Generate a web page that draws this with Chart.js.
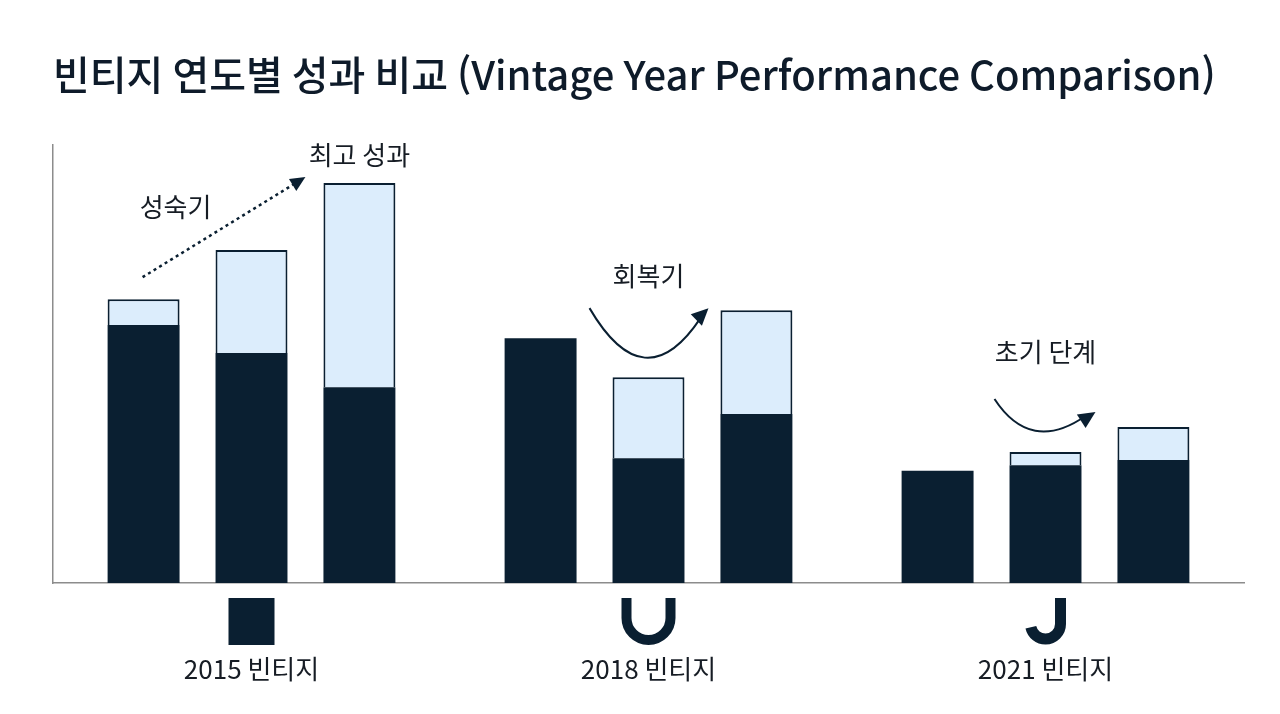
<!DOCTYPE html>
<html lang="ko">
<head>
<meta charset="utf-8">
<title>빈티지 연도별 성과 비교</title>
<script src="https://cdn.jsdelivr.net/npm/chart.js@4.4.1/dist/chart.umd.min.js"></script>
<style>
  html, body { margin: 0; padding: 0; background: #ffffff; }
  #wrap { position: relative; width: 1280px; height: 714px; }
</style>
</head>
<body>
<div id="wrap"><canvas id="vintage-chart"></canvas></div>
<script>
// Vintage groups (x categories)
const vintages = ['2015 빈티지', '2018 빈티지', '2021 빈티지'];

// Realized (dark) and unrealized (light) value per bar, three bars per vintage
const realized2015 = [58.9, 52.5, 44.7];
const unrealized2015 = [5.9, 23.5, 46.6];
const realized2018 = [55.9, 28.5, 38.6];
const unrealized2018 = [null, 18.5, 23.7];
const realized2021 = [25.6, 26.9, 28.1];
const unrealized2021 = [null, 3.0, 7.5];

const yMax = 100;

const DARK = '#0a1f31';
const LIGHT = '#dcedfc';
const INK = '#161c24';
const FONT = "'Noto Sans CJK KR', 'Noto Sans', sans-serif";

const realizedRows = [realized2015, realized2018, realized2021];
const unrealizedRows = [unrealized2015, unrealized2018, unrealized2021];

// one stack per bar position inside a vintage group
var datasets = [];
for (let k = 0; k < 3; k++) {
    datasets.push({
        label: '실현 ' + (k + 1),
        data: realizedRows.map(r => r[k]),
        backgroundColor: DARK,
        borderWidth: 0,
        stack: 's' + k
    });
    datasets.push({
        label: '미실현 ' + (k + 1),
        data: unrealizedRows.map(r => r[k]),
        backgroundColor: LIGHT,
        borderColor: DARK,
        borderWidth: 2,
        borderSkipped: 'bottom',
        stack: 's' + k
    });
}

function arrowHead(ctx, x, y, angle, len, half) {
    ctx.save();
    ctx.translate(x, y);
    ctx.rotate(angle);
    ctx.beginPath();
    ctx.moveTo(0, 0);
    ctx.lineTo(-len, -half);
    ctx.lineTo(-len, half);
    ctx.closePath();
    ctx.fill();
    ctx.restore();
}

// annotations + vintage icons
const decorations = {
    id: 'decorations',
    afterDraw(chart) {
        const ctx = chart.ctx;
        const xs = chart.scales.x;
        const bar = (k, i) => chart.getDatasetMeta(k * 2).data[i];
        const topOf = (k, i) => {
            const light = chart.getDatasetMeta(k * 2 + 1).data[i];
            const v = unrealizedRows[i][k];
            return v == null ? bar(k, i).y : light.y;
        };

        ctx.save();
        ctx.fillStyle = INK;
        ctx.strokeStyle = DARK;
        ctx.font = '26px ' + FONT;
        ctx.textAlign = 'center';
        ctx.textBaseline = 'middle';

        // 2015: dotted rising arrow
        const a0 = bar(0, 0), a2 = bar(2, 0);
        const sx = a0.x - 1, sy = topOf(0, 0) - 22;
        const ex = a2.x - 54, ey = topOf(2, 0) - 6;
        ctx.save();
        ctx.lineWidth = 2.5;
        ctx.setLineDash([3, 3.5]);
        ctx.beginPath();
        ctx.moveTo(sx, sy);
        ctx.lineTo(ex - 9, ey + 5.5);
        ctx.stroke();
        ctx.restore();
        ctx.fillStyle = DARK;
        arrowHead(ctx, ex, ey, Math.atan2(ey - sy, ex - sx), 15, 7);
        ctx.fillStyle = INK;
        ctx.fillText('성숙기', a0.x + 32, sy - 70);
        ctx.fillText('최고 성과', a2.x, topOf(2, 0) - 28);

        // 2018: recovery curve
        const b1 = bar(1, 1);
        const p0 = {x: b1.x - 59, y: topOf(2, 1) - 2};
        const p2 = {x: b1.x + 60, y: topOf(2, 1) - 2};
        const c = {x: b1.x - 4, y: p0.y + 94};
        ctx.lineWidth = 2;
        ctx.beginPath();
        ctx.moveTo(p0.x, p0.y);
        ctx.quadraticCurveTo(c.x, c.y, p2.x - 8, p2.y + 10);
        ctx.stroke();
        ctx.fillStyle = DARK;
        arrowHead(ctx, p2.x, p2.y, Math.atan2(p2.y - c.y, p2.x - c.x) + 0.2, 17, 8);
        ctx.fillStyle = INK;
        ctx.fillText('회복기', b1.x, p0.y - 32);

        // 2021: early-stage curve
        const g1 = bar(1, 2);
        const q0 = {x: g1.x - 51, y: topOf(1, 2) - 53};
        const q2 = {x: g1.x + 50, y: topOf(1, 2) - 40};
        const d = {x: g1.x - 15, y: q0.y + 55};
        ctx.beginPath();
        ctx.moveTo(q0.x, q0.y);
        ctx.quadraticCurveTo(d.x, d.y, q2.x - 10, q2.y + 4);
        ctx.stroke();
        ctx.fillStyle = DARK;
        arrowHead(ctx, q2.x, q2.y, Math.atan2(q2.y - d.y, q2.x - d.x), 17, 8);
        ctx.fillStyle = INK;
        ctx.fillText('초기 단계', g1.x, q0.y - 47);

        // icons under each vintage
        const iy = chart.chartArea.bottom + 15;
        ctx.fillStyle = DARK;
        ctx.strokeStyle = DARK;
        ctx.lineCap = 'butt';

        const cx0 = xs.getPixelForValue(0);
        ctx.fillRect(cx0 - 23, iy, 46, 47);

        const cx1 = xs.getPixelForValue(1);
        ctx.lineWidth = 10;
        ctx.beginPath();
        ctx.moveTo(cx1 - 22, iy);
        ctx.lineTo(cx1 - 22, iy + 20);
        ctx.arc(cx1, iy + 20, 22, Math.PI, 0, true);
        ctx.lineTo(cx1 + 22, iy);
        ctx.stroke();

        const cx2 = xs.getPixelForValue(2);
        ctx.lineWidth = 11;
        ctx.beginPath();
        ctx.moveTo(cx2 + 15, iy);
        ctx.lineTo(cx2 + 15, iy + 26);
        ctx.arc(cx2, iy + 26, 15, 0, Math.PI * 0.93, false);
        ctx.stroke();

        ctx.restore();
    }
};

var ctx = document.getElementById('vintage-chart');

var config = {
    type: 'bar',
    data: {
        labels: vintages,
        datasets: datasets
    },
    options: {
        responsive: true,
        maintainAspectRatio: false,
        animation: false,
        layout: { padding: { left: 53, right: 36, top: 0, bottom: 0 } },
        categoryPercentage: 0.8155,
        barPercentage: 0.6667,
        plugins: {
            legend: { display: false },
            tooltip: { enabled: false },
            title: {
                display: true,
                text: '빈티지 연도별 성과 비교 (Vintage Year Performance Comparison)',
                align: 'start',
                color: '#0e1b2a',
                font: { family: FONT, size: 40, weight: '500', lineHeight: 1.2 },
                padding: { top: 51, bottom: 46 }
            }
        },
        scales: {
            x: {
                stacked: true,
                grid: { display: false, drawTicks: false },
                border: { display: true, color: '#8c8c8c', width: 1.5 },
                ticks: {
                    color: INK,
                    padding: 71,
                    font: { family: FONT, size: 26 }
                },
                afterFit(scale) { scale.height = 131; }
            },
            y: {
                stacked: true,
                min: 0,
                max: yMax,
                grid: { display: false, drawTicks: false },
                border: { display: true, color: '#8c8c8c', width: 1.5 },
                ticks: { display: false },
                afterFit(scale) { scale.width = 0; }
            }
        }
    },
    plugins: [decorations]
};

var vintageChart = new Chart(ctx, config);
</script>
</body>
</html>
